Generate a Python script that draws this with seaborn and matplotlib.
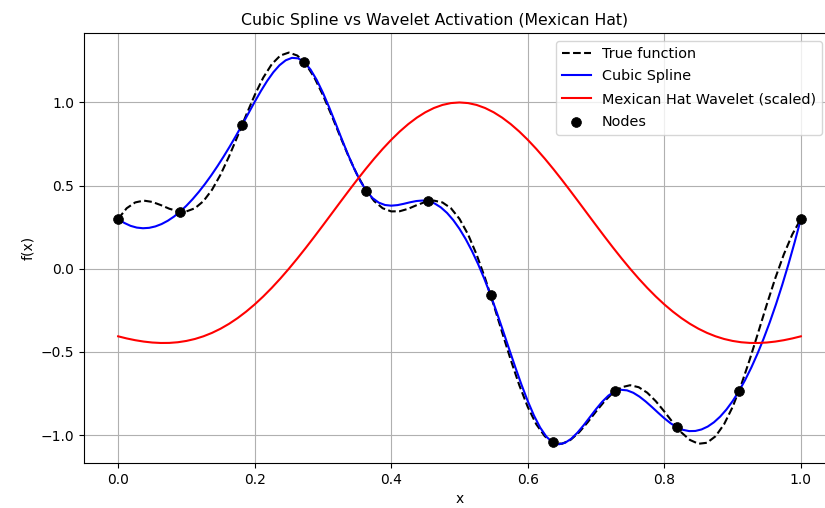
import numpy as np
import pandas as pd
import matplotlib
matplotlib.use("Agg")
import matplotlib.pyplot as plt
import seaborn as sns

# Sample grids on [0, 1]
true_x = np.linspace(0.0, 1.0, 81)
spline_x = np.linspace(0.0, 1.0, 111)
wavelet_x = np.linspace(0.0, 1.0, 81)
node_x = np.linspace(0.0, 1.0, 12)

true_y = [
    0.300, 0.364, 0.399, 0.410, 0.402, 0.383, 0.361, 0.346, 0.345, 0.364,
    0.407, 0.475, 0.566, 0.676, 0.798, 0.924, 1.044, 1.149, 1.230, 1.282,
    1.300, 1.282, 1.230, 1.149, 1.044, 0.924, 0.798, 0.676, 0.566, 0.475,
    0.407, 0.364, 0.345, 0.346, 0.361, 0.383, 0.402, 0.410, 0.399, 0.364,
    0.300, 0.207, 0.086, -0.057, -0.216, -0.383, -0.547, -0.699, -0.831, -0.935,
    -1.007, -1.046, -1.052, -1.029, -0.984, -0.924, -0.858, -0.796, -0.745, -0.712,
    -0.700, -0.712, -0.745, -0.796, -0.858, -0.924, -0.984, -1.029, -1.052, -1.046,
    -1.007, -0.935, -0.831, -0.699, -0.547, -0.383, -0.216, -0.057, 0.086, 0.207,
    0.300,
]

spline_y = [
    0.3000, 0.2756, 0.2582, 0.2477, 0.2438, 0.2462, 0.2547, 0.2690, 0.2888, 0.3139,
    0.3441, 0.3791, 0.4186, 0.4624, 0.5102, 0.5617, 0.6168, 0.6751, 0.7364, 0.8004,
    0.8669, 0.9353, 1.0034, 1.0687, 1.1289, 1.1814, 1.2238, 1.2535, 1.2681, 1.2652,
    1.2422, 1.1978, 1.1351, 1.0581, 0.9709, 0.8779, 0.7830, 0.6904, 0.6043, 0.5287,
    0.4679, 0.4248, 0.3976, 0.3835, 0.3795, 0.3828, 0.3905, 0.3995, 0.4071, 0.4104,
    0.4064, 0.3927, 0.3690, 0.3356, 0.2925, 0.2400, 0.1783, 0.1075, 0.0279, -0.0604,
    -0.1571, -0.2616, -0.3712, -0.4826, -0.5927, -0.6982, -0.7958, -0.8824, -0.9547, -1.0095,
    -1.0436, -1.0550, -1.0464, -1.0219, -0.9853, -0.9408, -0.8922, -0.8436, -0.7990, -0.7622,
    -0.7374, -0.7274, -0.7309, -0.7454, -0.7686, -0.7979, -0.8309, -0.8654, -0.8987, -0.9285,
    -0.9523, -0.9682, -0.9758, -0.9750, -0.9658, -0.9484, -0.9227, -0.8887, -0.8464, -0.7959,
    -0.7371, -0.6701, -0.5950, -0.5116, -0.4200, -0.3204, -0.2125, -0.0965, 0.0276, 0.1597,
    0.3000,
]

wavelet_y = [
    -0.4060, -0.4187, -0.4293, -0.4376, -0.4433, -0.4460, -0.4456, -0.4416, -0.4337, -0.4219,
    -0.4058, -0.3853, -0.3603, -0.3307, -0.2964, -0.2575, -0.2142, -0.1665, -0.1147, -0.0591,
    0.0000, 0.0621, 0.1267, 0.1934, 0.2614, 0.3302, 0.3992, 0.4675, 0.5346, 0.5996,
    0.6619, 0.7207, 0.7754, 0.8254, 0.8700, 0.9087, 0.9410, 0.9666, 0.9851, 0.9963,
    1.0000,
    0.9963, 0.9851, 0.9666, 0.9410, 0.9087, 0.8700, 0.8254, 0.7754, 0.7207, 0.6619,
    0.5996, 0.5346, 0.4675, 0.3992, 0.3302, 0.2614, 0.1934, 0.1267, 0.0621, 0.0000,
    -0.0591, -0.1147, -0.1665, -0.2142, -0.2575, -0.2964, -0.3307, -0.3603, -0.3853, -0.4058,
    -0.4219, -0.4337, -0.4416, -0.4456, -0.4460, -0.4433, -0.4376, -0.4293, -0.4187, -0.4060,
]

node_y = [0.300, 0.344, 0.867, 1.242, 0.468, 0.406,
          -0.157, -1.044, -0.737, -0.952, -0.737, 0.300]

true_df = pd.DataFrame({"x": true_x, "y": true_y})
spline_df = pd.DataFrame({"x": spline_x, "y": spline_y})
wavelet_df = pd.DataFrame({"x": wavelet_x, "y": wavelet_y})
node_df = pd.DataFrame({"x": node_x, "y": node_y})

fig = plt.figure(figsize=(8.25, 5.08), dpi=100)
ax = fig.add_axes([84 / 825, 1 - 463 / 508, 751 / 825, 430 / 508])

sns.lineplot(data=true_df, x="x", y="y", ax=ax, color="black", linestyle="--",
             linewidth=1.5, sort=False, estimator=None, label="True function")
sns.lineplot(data=spline_df, x="x", y="y", ax=ax, color="blue",
             linewidth=1.5, sort=False, estimator=None, label="Cubic Spline")
sns.lineplot(data=wavelet_df, x="x", y="y", ax=ax, color="red",
             linewidth=1.5, sort=False, estimator=None,
             label="Mexican Hat Wavelet (scaled)")
sns.scatterplot(data=node_df, x="x", y="y", ax=ax, color="black", s=50,
                edgecolor="black", linewidth=0.5, zorder=5, label="Nodes")

ax.set_xlim(-0.05, 1.05)
ax.set_ylim(-1.1676, 1.4176)
ax.set_xticks([0.0, 0.2, 0.4, 0.6, 0.8, 1.0])
ax.set_yticks([-1.0, -0.5, 0.0, 0.5, 1.0])
ax.grid(True)
ax.set_xlabel("x")
ax.set_ylabel("f(x)")
ax.set_title("Cubic Spline vs Wavelet Activation (Mexican Hat)",
             fontsize=11.3, x=0.467)
ax.legend(loc="upper right", bbox_to_anchor=(822 / 825, 1 - 41 / 508),
          bbox_transform=fig.transFigure, borderaxespad=0, fontsize=10.4,
          labelspacing=0.6)

fig.savefig("out.png", dpi=100)
